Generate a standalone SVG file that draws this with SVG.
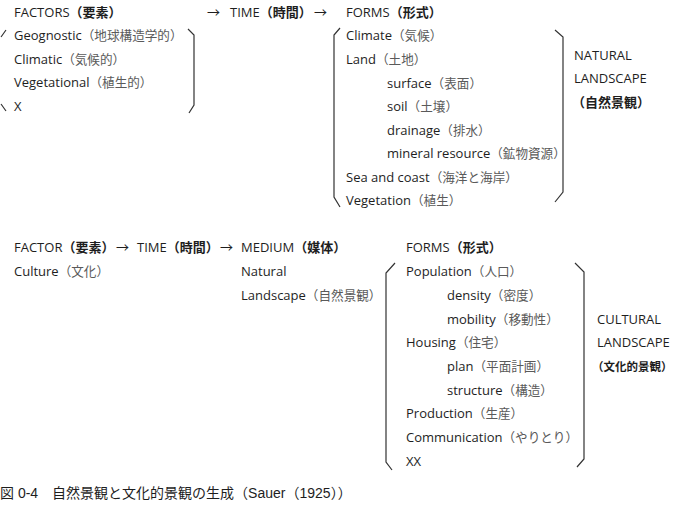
<svg xmlns="http://www.w3.org/2000/svg" width="675" height="515" viewBox="0 0 675 515">
<style>
text{font-family:"Open Sans","Noto Sans CJK JP",sans-serif;font-size:13px;fill:#1e1e1e}
.j{fill:#5a5a5a;font-size:12.6px}
.b{font-weight:bold;fill:#1e1e1e}
.br{fill:none;stroke:#333;stroke-width:1.2}
.cap{font-family:"Liberation Sans","Noto Sans CJK JP",sans-serif;font-size:14px;fill:#1e1e1e}
</style>
<rect width="675" height="515" fill="#fff"/>
<g id="brackets">
<path class="br" d="M6,30 L1,37 M1,104 L6,111"/>
<path class="br" d="M188,29 L194,35 L194,105 L189,113"/>
<path class="br" d="M340,28 L334,35 L334,197 L340,207"/>
<path class="br" d="M555,30 L563,37 L563,192 L555,202"/>
<path class="br" d="M395,263 L386,273 L386,462 L392,470"/>
<path class="br" d="M575,263 L584,272 L584,459 L577,467"/>
</g>
<g id="connectors">
<text x="207" y="17">→</text>
<text x="314" y="17">→</text>
<text x="116" y="252">→</text>
<text x="220" y="252">→</text>
</g>
<g id="factors">
<text x="14" y="17">FACTORS<tspan class="b">（要素）</tspan></text>
<text x="14" y="40">Geognostic<tspan class="j">（地球構造学的）</tspan></text>
<text x="14" y="64">Climatic<tspan class="j">（気候的）</tspan></text>
<text x="14" y="87">Vegetational<tspan class="j">（植生的）</tspan></text>
<text x="14" y="111">X</text>
</g>
<g id="time1">
<text x="230" y="17">TIME<tspan class="b">（時間）</tspan></text>
</g>
<g id="forms1">
<text x="346" y="17">FORMS<tspan class="b">（形式）</tspan></text>
<text x="346" y="40">Climate<tspan class="j">（気候）</tspan></text>
<text x="346" y="64">Land<tspan class="j">（土地）</tspan></text>
<text x="387" y="87.5">surface<tspan class="j">（表面）</tspan></text>
<text x="387" y="111">soil<tspan class="j">（土壌）</tspan></text>
<text x="387" y="134.5">drainage<tspan class="j">（排水）</tspan></text>
<text x="387" y="158">mineral resource<tspan class="j">（鉱物資源）</tspan></text>
<text x="346" y="182">Sea and coast<tspan class="j">（海洋と海岸）</tspan></text>
<text x="346" y="205">Vegetation<tspan class="j">（植生）</tspan></text>
</g>
<g id="natural-landscape">
<text x="574" y="60">NATURAL</text>
<text x="574" y="83">LANDSCAPE</text>
<text x="572" y="107" class="b">（自然景観）</text>
</g>
<g id="factor2">
<text x="14" y="252">FACTOR<tspan class="b">（要素）</tspan></text>
<text x="14" y="276">Culture<tspan class="j">（文化）</tspan></text>
</g>
<g id="time2">
<text x="137" y="252">TIME<tspan class="b">（時間）</tspan></text>
</g>
<g id="medium">
<text x="241" y="252">MEDIUM<tspan class="b">（媒体）</tspan></text>
<text x="241" y="276">Natural</text>
<text x="241" y="300">Landscape<tspan class="j">（自然景観）</tspan></text>
</g>
<g id="forms2">
<text x="406" y="252">FORMS<tspan class="b">（形式）</tspan></text>
<text x="406" y="276">Population<tspan class="j">（人口）</tspan></text>
<text x="447" y="300">density<tspan class="j">（密度）</tspan></text>
<text x="447" y="324">mobility<tspan class="j">（移動性）</tspan></text>
<text x="406" y="347">Housing<tspan class="j">（住宅）</tspan></text>
<text x="447" y="371">plan<tspan class="j">（平面計画）</tspan></text>
<text x="447" y="395">structure<tspan class="j">（構造）</tspan></text>
<text x="406" y="418">Production<tspan class="j">（生産）</tspan></text>
<text x="406" y="442">Communication<tspan class="j">（やりとり）</tspan></text>
<text x="406" y="466">XX</text>
</g>
<g id="cultural-landscape">
<text x="597" y="324">CULTURAL</text>
<text x="597" y="347">LANDSCAPE</text>
<text x="592" y="371" class="b" style="font-size:11.5px">（文化的景観）</text>
</g>
<g id="caption">
<text class="cap" x="0" y="498">図 0-4　自然景観と文化的景観の生成（Sauer（1925））</text>
</g>
</svg>
